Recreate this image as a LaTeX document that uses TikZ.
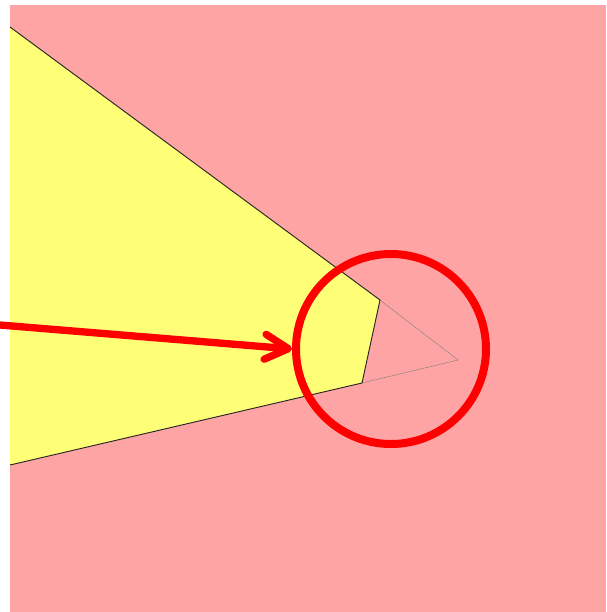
\documentclass[tikz,border=0pt]{standalone}
\usetikzlibrary{arrows.meta}

\definecolor{bgpink}{RGB}{255,164,164}
\definecolor{wedgeyellow}{RGB}{255,255,119}

\tikzstyle{wedgefill} = [
fill=wedgeyellow
]
\tikzstyle{wedgeedge} = [
draw=black!85,
line width=0.8pt
]
\tikzstyle{tipline} = [
draw=black!50,
line width=0.35pt
]
\tikzstyle{ring} = [
circle,
draw=red,
line width=0.24cm,
inner sep=0pt,
minimum size=5.7cm
]
\tikzstyle{arrow} = [
red,
line width=0.22cm,
-{Straight Barb[length=0.7cm, width=0.75cm, round]}
]

\begin{document}
\begin{tikzpicture}[
x=0.03cm,
y=-0.03cm
]
\useasboundingbox (0,0) rectangle (606,612);

% Background
\fill [bgpink] (10,5) rectangle (606,612);

% Wedge
\coordinate (top) at (10,27);
\coordinate (apex) at (458,360);
\coordinate (bottom) at (10,465);
\coordinate (cutup) at (380,300);
\coordinate (cutdown) at (362,383);

\fill [wedgefill] (top) -- (cutup) -- (cutdown) -- (bottom) -- cycle;
\draw [tipline] (cutup) -- (apex) -- (cutdown);
\draw [wedgeedge] (top) -- (cutup) -- (cutdown) -- (bottom);

% Nodes
\node (focus) [ring] at (391,349) {};
\coordinate (start) at (0,325);

% Arrows
\draw [arrow] (start) -- (focus.west);

\end{tikzpicture}
\end{document}
